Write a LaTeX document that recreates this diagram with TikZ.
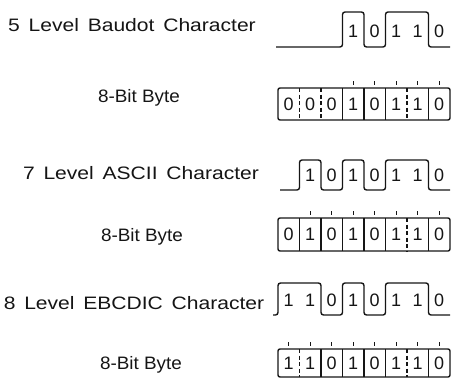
\documentclass[tikz,border=0pt]{standalone}
\usepackage{fontspec}
\setmainfont{Liberation Sans}
\newfontfamily\bytefont[FakeStretch=1.05]{Liberation Sans}
\newfontfamily\levelfont[FakeStretch=1.17,WordSpace=1.5]{Liberation Sans}
\usepackage{tikz}
\usetikzlibrary{positioning,calc}
\definecolor{ScanInk}{HTML}{151515}

\begin{document}
\begin{tikzpicture}[
    x=1pt, y=-1pt,
    label/.style={
      font=\fontsize{18}{20}\selectfont#1,
      text=ScanInk,
      anchor=center,
      inner sep=0pt
    },
    bit/.style={
      font=\fontsize{18}{20}\selectfont,
      text=ScanInk,
      inner sep=0pt
    },
    wave/.style={
      draw=ScanInk,
      line width=1.4pt,
      rounded corners=2.5pt
    },
    bytebox/.style={
      draw=ScanInk,
      line width=1.4pt,
      rounded corners=2pt
    },
    divider/.style={
      draw=ScanInk,
      line width=1.1pt
    },
    gap/.style={
      dash pattern=on 4pt off 2.5pt
    },
    tick/.style={
      draw=ScanInk,
      line width=1pt
    }
  ]
  \useasboundingbox (0,0) rectangle (453,384);

  % Row labels
  \node[label=\levelfont] (baudotlbl) at (132,25)  {5 Level Baudot Character};
  \node[label=\bytefont]  (bytelblA)  at (139,98)  {8-Bit Byte};
  \node[label=\levelfont] (asciilbl)  at (141,173) {7 Level ASCII Character};
  \node[label=\bytefont]  (bytelblB)  at (142,237) {8-Bit Byte};
  \node[label=\levelfont] (ebcdiclbl) at (134,303) {8 Level EBCDIC Character};
  \node[label=\bytefont]  (bytelblC)  at (141,365) {8-Bit Byte};

  % 5 level Baudot
  \draw[wave] (276,47) -- (342.5,47) -- ++(0,-35) -- ++(21.5,0) -- ++(0,35)
    -- ++(21.5,0) -- ++(0,-35) -- ++(43,0) -- ++(0,35) -- ++(21.5,0);
  \foreach \b [count=\i] in {1,0,1,1,0}
    \node[bit] (baudot-\i) at ({342.5+(\i-0.5)*21.5},31) {\b};

  % 8-bit byte (Baudot)
  \draw[bytebox] (278,88) rectangle (450,120);
  \foreach \b [count=\i, remember=\b as \lastb (initially 0)] in {0,0,0,1,0,1,1,0} {
    \node[bit] (byteA-\i) at ({278+(\i-0.5)*21.5},104) {\b};
    \ifnum\i>1
      \ifnum\b=\lastb
        \draw[divider,gap] ({278+(\i-1)*21.5},88) -- ++(0,32);
      \else
        \draw[divider] ({278+(\i-1)*21.5},88) -- ++(0,32);
      \fi
    \fi
  }
  \foreach \i in {4,...,8}
    \draw[tick] ({278+(\i-0.5)*21.5},81) -- ++(0,4);

  % 7 level ASCII
  \draw[wave] (280,190) -- (299.5,190) -- ++(0,-30) -- ++(21.5,0) -- ++(0,30)
    -- ++(21.5,0) -- ++(0,-30) -- ++(21.5,0) -- ++(0,30) -- ++(21.5,0)
    -- ++(0,-30) -- ++(43,0) -- ++(0,30) -- ++(21.5,0);
  \foreach \b [count=\i] in {1,0,1,0,1,1,0}
    \node[bit] (ascii-\i) at ({299.5+(\i-0.5)*21.5},175) {\b};

  % 8-bit byte (ASCII)
  \draw[bytebox] (278,218) rectangle (450,251);
  \foreach \b [count=\i, remember=\b as \lastb (initially 0)] in {0,1,0,1,0,1,1,0} {
    \node[bit] (byteB-\i) at ({278+(\i-0.5)*21.5},234) {\b};
    \ifnum\i>1
      \ifnum\b=\lastb
        \draw[divider,gap] ({278+(\i-1)*21.5},218) -- ++(0,33);
      \else
        \draw[divider] ({278+(\i-1)*21.5},218) -- ++(0,33);
      \fi
    \fi
  }
  \foreach \i in {2,...,8}
    \draw[tick] ({278+(\i-0.5)*21.5},211) -- ++(0,4);

  % 8 level EBCDIC
  \draw[wave] (273,315) -- (278,315) -- ++(0,-32) -- ++(43,0) -- ++(0,32)
    -- ++(21.5,0) -- ++(0,-32) -- ++(21.5,0) -- ++(0,32) -- ++(21.5,0)
    -- ++(0,-32) -- ++(43,0) -- ++(0,32) -- ++(21.5,0);
  \foreach \b [count=\i] in {1,1,0,1,0,1,1,0}
    \node[bit] (ebcdic-\i) at ({278+(\i-0.5)*21.5},300) {\b};

  % 8-bit byte (EBCDIC)
  \draw[bytebox] (278,349) rectangle (450,377);
  \foreach \b [count=\i, remember=\b as \lastb (initially 0)] in {1,1,0,1,0,1,1,0} {
    \node[bit] (byteC-\i) at ({278+(\i-0.5)*21.5},363) {\b};
    \ifnum\i>1
      \ifnum\b=\lastb
        \draw[divider,gap] ({278+(\i-1)*21.5},349) -- ++(0,28);
      \else
        \draw[divider] ({278+(\i-1)*21.5},349) -- ++(0,28);
      \fi
    \fi
  }
  \foreach \i in {1,...,8}
    \draw[tick] ({278+(\i-0.5)*21.5},342) -- ++(0,4);

\end{tikzpicture}
\end{document}
